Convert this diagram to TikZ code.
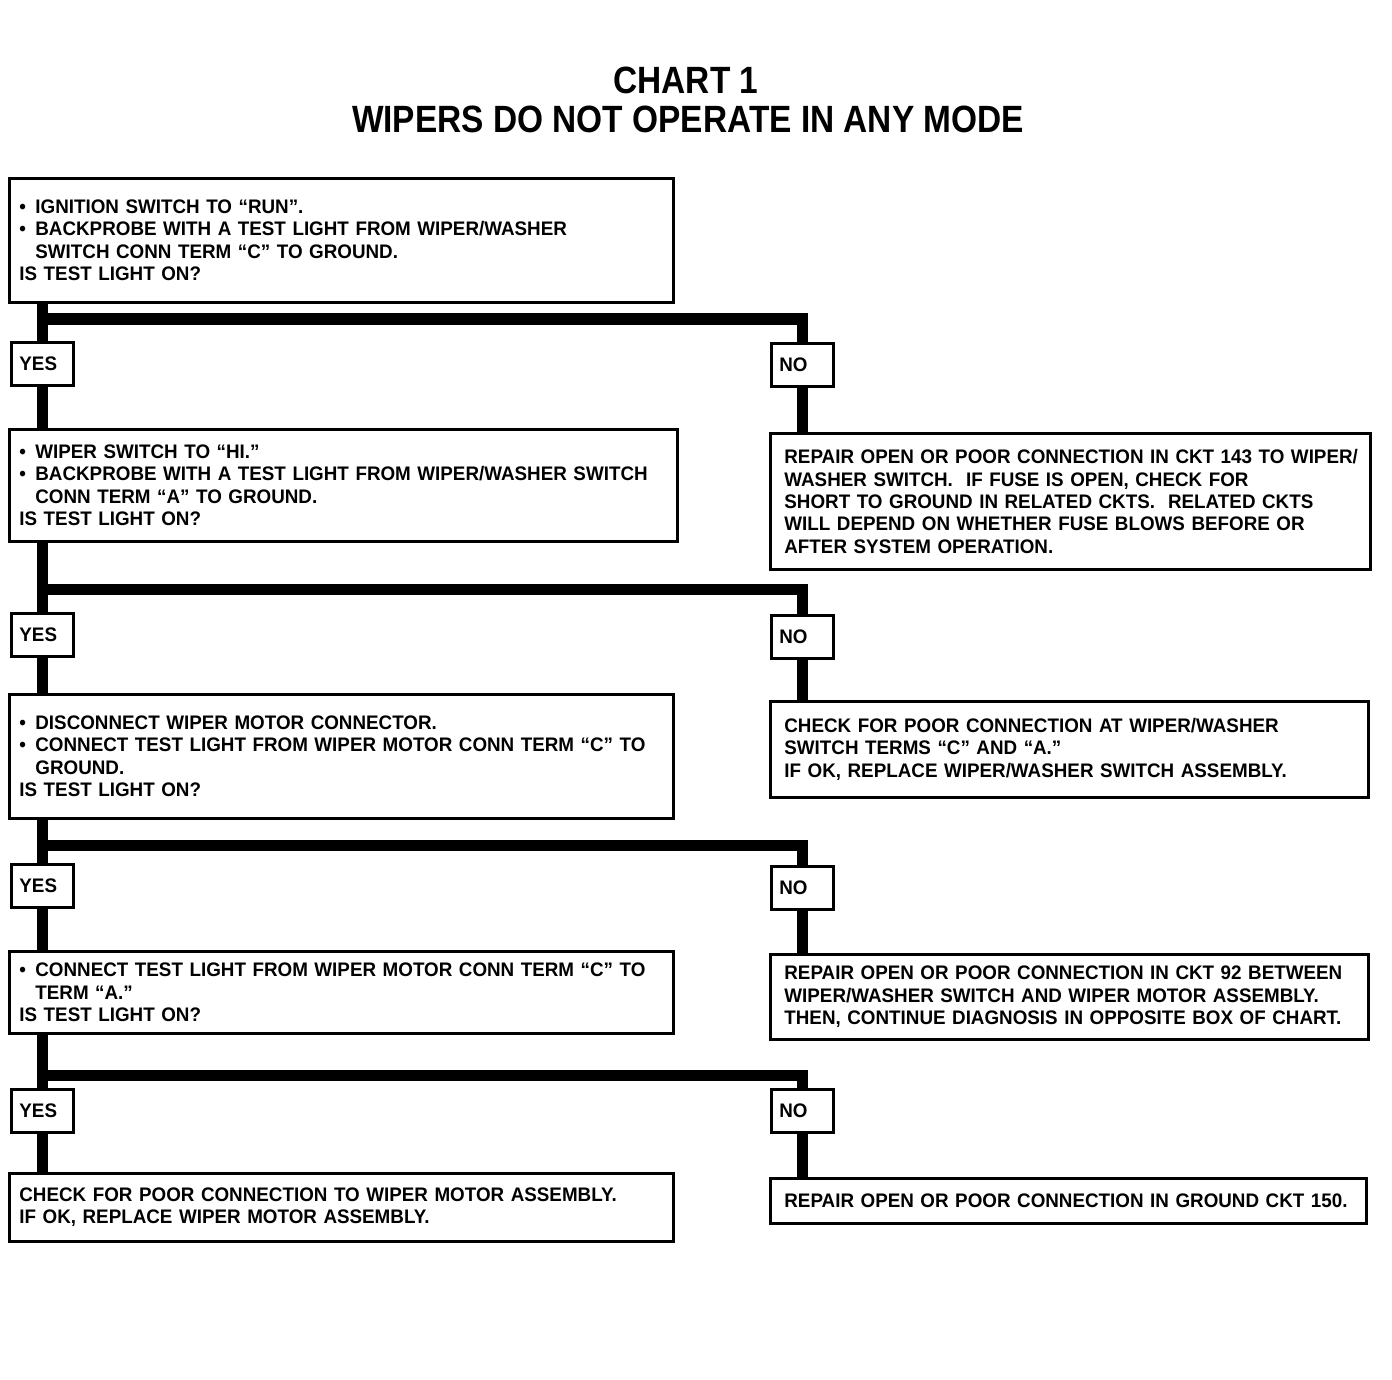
\documentclass[tikz,border=0pt]{standalone}
\usepackage{fontspec}
\setmainfont{Liberation Sans}[FakeStretch=0.96]
\newfontfamily\titlefont{Liberation Sans}[FakeStretch=0.88]
\newcommand{\bul}{\makebox[8pt][l]{\textbullet}}
\newcommand{\ind}{\hspace*{8pt}}
\tikzset{
  chartbox/.style={draw, line width=1.4pt, rectangle, anchor=north west, align=left,
    inner ysep=2pt, font=\fontsize{9.8pt}{11.2pt}\selectfont\bfseries},
  testbox/.style={chartbox, inner xsep=5pt},
  fixbox/.style={chartbox, inner xsep=7pt},
  answer/.style={chartbox, inner xsep=4pt, text width=23pt, minimum height=21.5pt},
  trunk/.style={line width=5.5pt}
}
\begin{document}
\begin{tikzpicture}[x=0.5pt, y=-0.5pt]
  \useasboundingbox[fill=white] (0,0) rectangle (1392,1380);

  % title
  \node[font=\titlefont\fontsize{19pt}{22pt}\selectfont\bfseries] (title) at (686,80) {CHART 1};
  \node[font=\titlefont\fontsize{19pt}{22pt}\selectfont\bfseries] (subtitle) at (688,119) {WIPERS DO NOT OPERATE IN ANY MODE};

  % test boxes, left column
  \node[testbox, text width=322pt, minimum height=62pt] (q1) at (8,177) {%
    \bul IGNITION SWITCH TO “RUN”.\\
    \bul BACKPROBE WITH A TEST LIGHT FROM WIPER/WASHER\\
    \ind SWITCH CONN TERM “C” TO GROUND.\\
    IS TEST LIGHT ON?};
  \node[testbox, text width=324pt, minimum height=56pt] (q2) at (8,428) {%
    \bul WIPER SWITCH TO “HI.”\\
    \bul BACKPROBE WITH A TEST LIGHT FROM WIPER/WASHER SWITCH\\
    \ind CONN TERM “A” TO GROUND.\\
    IS TEST LIGHT ON?};
  \node[testbox, text width=322pt, minimum height=62pt] (q3) at (8,693) {%
    \bul DISCONNECT WIPER MOTOR CONNECTOR.\\
    \bul CONNECT TEST LIGHT FROM WIPER MOTOR CONN TERM “C” TO\\
    \ind GROUND.\\
    IS TEST LIGHT ON?};
  \node[testbox, text width=322pt, minimum height=41pt] (q4) at (8,950) {%
    \bul CONNECT TEST LIGHT FROM WIPER MOTOR CONN TERM “C” TO\\
    \ind TERM “A.”\\
    IS TEST LIGHT ON?};
  \node[testbox, text width=322pt, minimum height=34pt] (q5) at (8,1172) {%
    CHECK FOR POOR CONNECTION TO WIPER MOTOR ASSEMBLY.\\
    IF OK, REPLACE WIPER MOTOR ASSEMBLY.};

  % repair boxes, right column
  \node[fixbox, text width=286pt, minimum height=68pt] (f1) at (769,432) {%
    \mbox{REPAIR OPEN OR POOR CONNECTION IN CKT 143 TO WIPER/}\\
    WASHER SWITCH.\ \ IF FUSE IS OPEN, CHECK FOR\\
    SHORT TO GROUND IN RELATED CKTS.\ \ RELATED CKTS\\
    WILL DEPEND ON WHETHER FUSE BLOWS BEFORE OR\\
    AFTER SYSTEM OPERATION.};
  \node[fixbox, text width=285pt, minimum height=48pt] (f2) at (769,700) {%
    CHECK FOR POOR CONNECTION AT WIPER/WASHER\\
    SWITCH TERMS “C” AND “A.”\\
    IF OK, REPLACE WIPER/WASHER SWITCH ASSEMBLY.};
  \node[fixbox, text width=285pt, minimum height=42.5pt] (f3) at (769,953) {%
    REPAIR OPEN OR POOR CONNECTION IN CKT 92 BETWEEN\\
    WIPER/WASHER SWITCH AND WIPER MOTOR ASSEMBLY.\\
    THEN, CONTINUE DIAGNOSIS IN OPPOSITE BOX OF CHART.};
  \node[fixbox, text width=284pt, minimum height=22.5pt] (f4) at (769,1177) {%
    REPAIR OPEN OR POOR CONNECTION IN GROUND CKT 150.};

  % answers
  \node[answer] (yes1) at (10,341) {YES};
  \node[answer] (yes2) at (10,612) {YES};
  \node[answer] (yes3) at (10,863) {YES};
  \node[answer] (yes4) at (10,1088) {YES};
  \node[answer] (no1) at (770,342) {NO};
  \node[answer] (no2) at (770,614) {NO};
  \node[answer] (no3) at (770,865) {NO};
  \node[answer] (no4) at (770,1088) {NO};

  % branch points
  \coordinate (j1) at (42,319);
  \coordinate (j2) at (42,589);
  \coordinate (j3) at (42,845);
  \coordinate (j4) at (42,1075);

  % connectors
  \draw[trunk] (q1.south -| yes1.north) -- (yes1.north);
  \draw[trunk] (yes1.south) -- (yes1.south |- q2.north);
  \draw[trunk] (j1) -| (no1.north);
  \draw[trunk] (no1.south) -- (no1.south |- f1.north);

  \draw[trunk] (q2.south -| yes2.north) -- (yes2.north);
  \draw[trunk] (yes2.south) -- (yes2.south |- q3.north);
  \draw[trunk] (j2) -| (no2.north);
  \draw[trunk] (no2.south) -- (no2.south |- f2.north);

  \draw[trunk] (q3.south -| yes3.north) -- (yes3.north);
  \draw[trunk] (yes3.south) -- (yes3.south |- q4.north);
  \draw[trunk] (j3) -| (no3.north);
  \draw[trunk] (no3.south) -- (no3.south |- f3.north);

  \draw[trunk] (q4.south -| yes4.north) -- (yes4.north);
  \draw[trunk] (yes4.south) -- (yes4.south |- q5.north);
  \draw[trunk] (j4) -| (no4.north);
  \draw[trunk] (no4.south) -- (no4.south |- f4.north);
\end{tikzpicture}
\end{document}
